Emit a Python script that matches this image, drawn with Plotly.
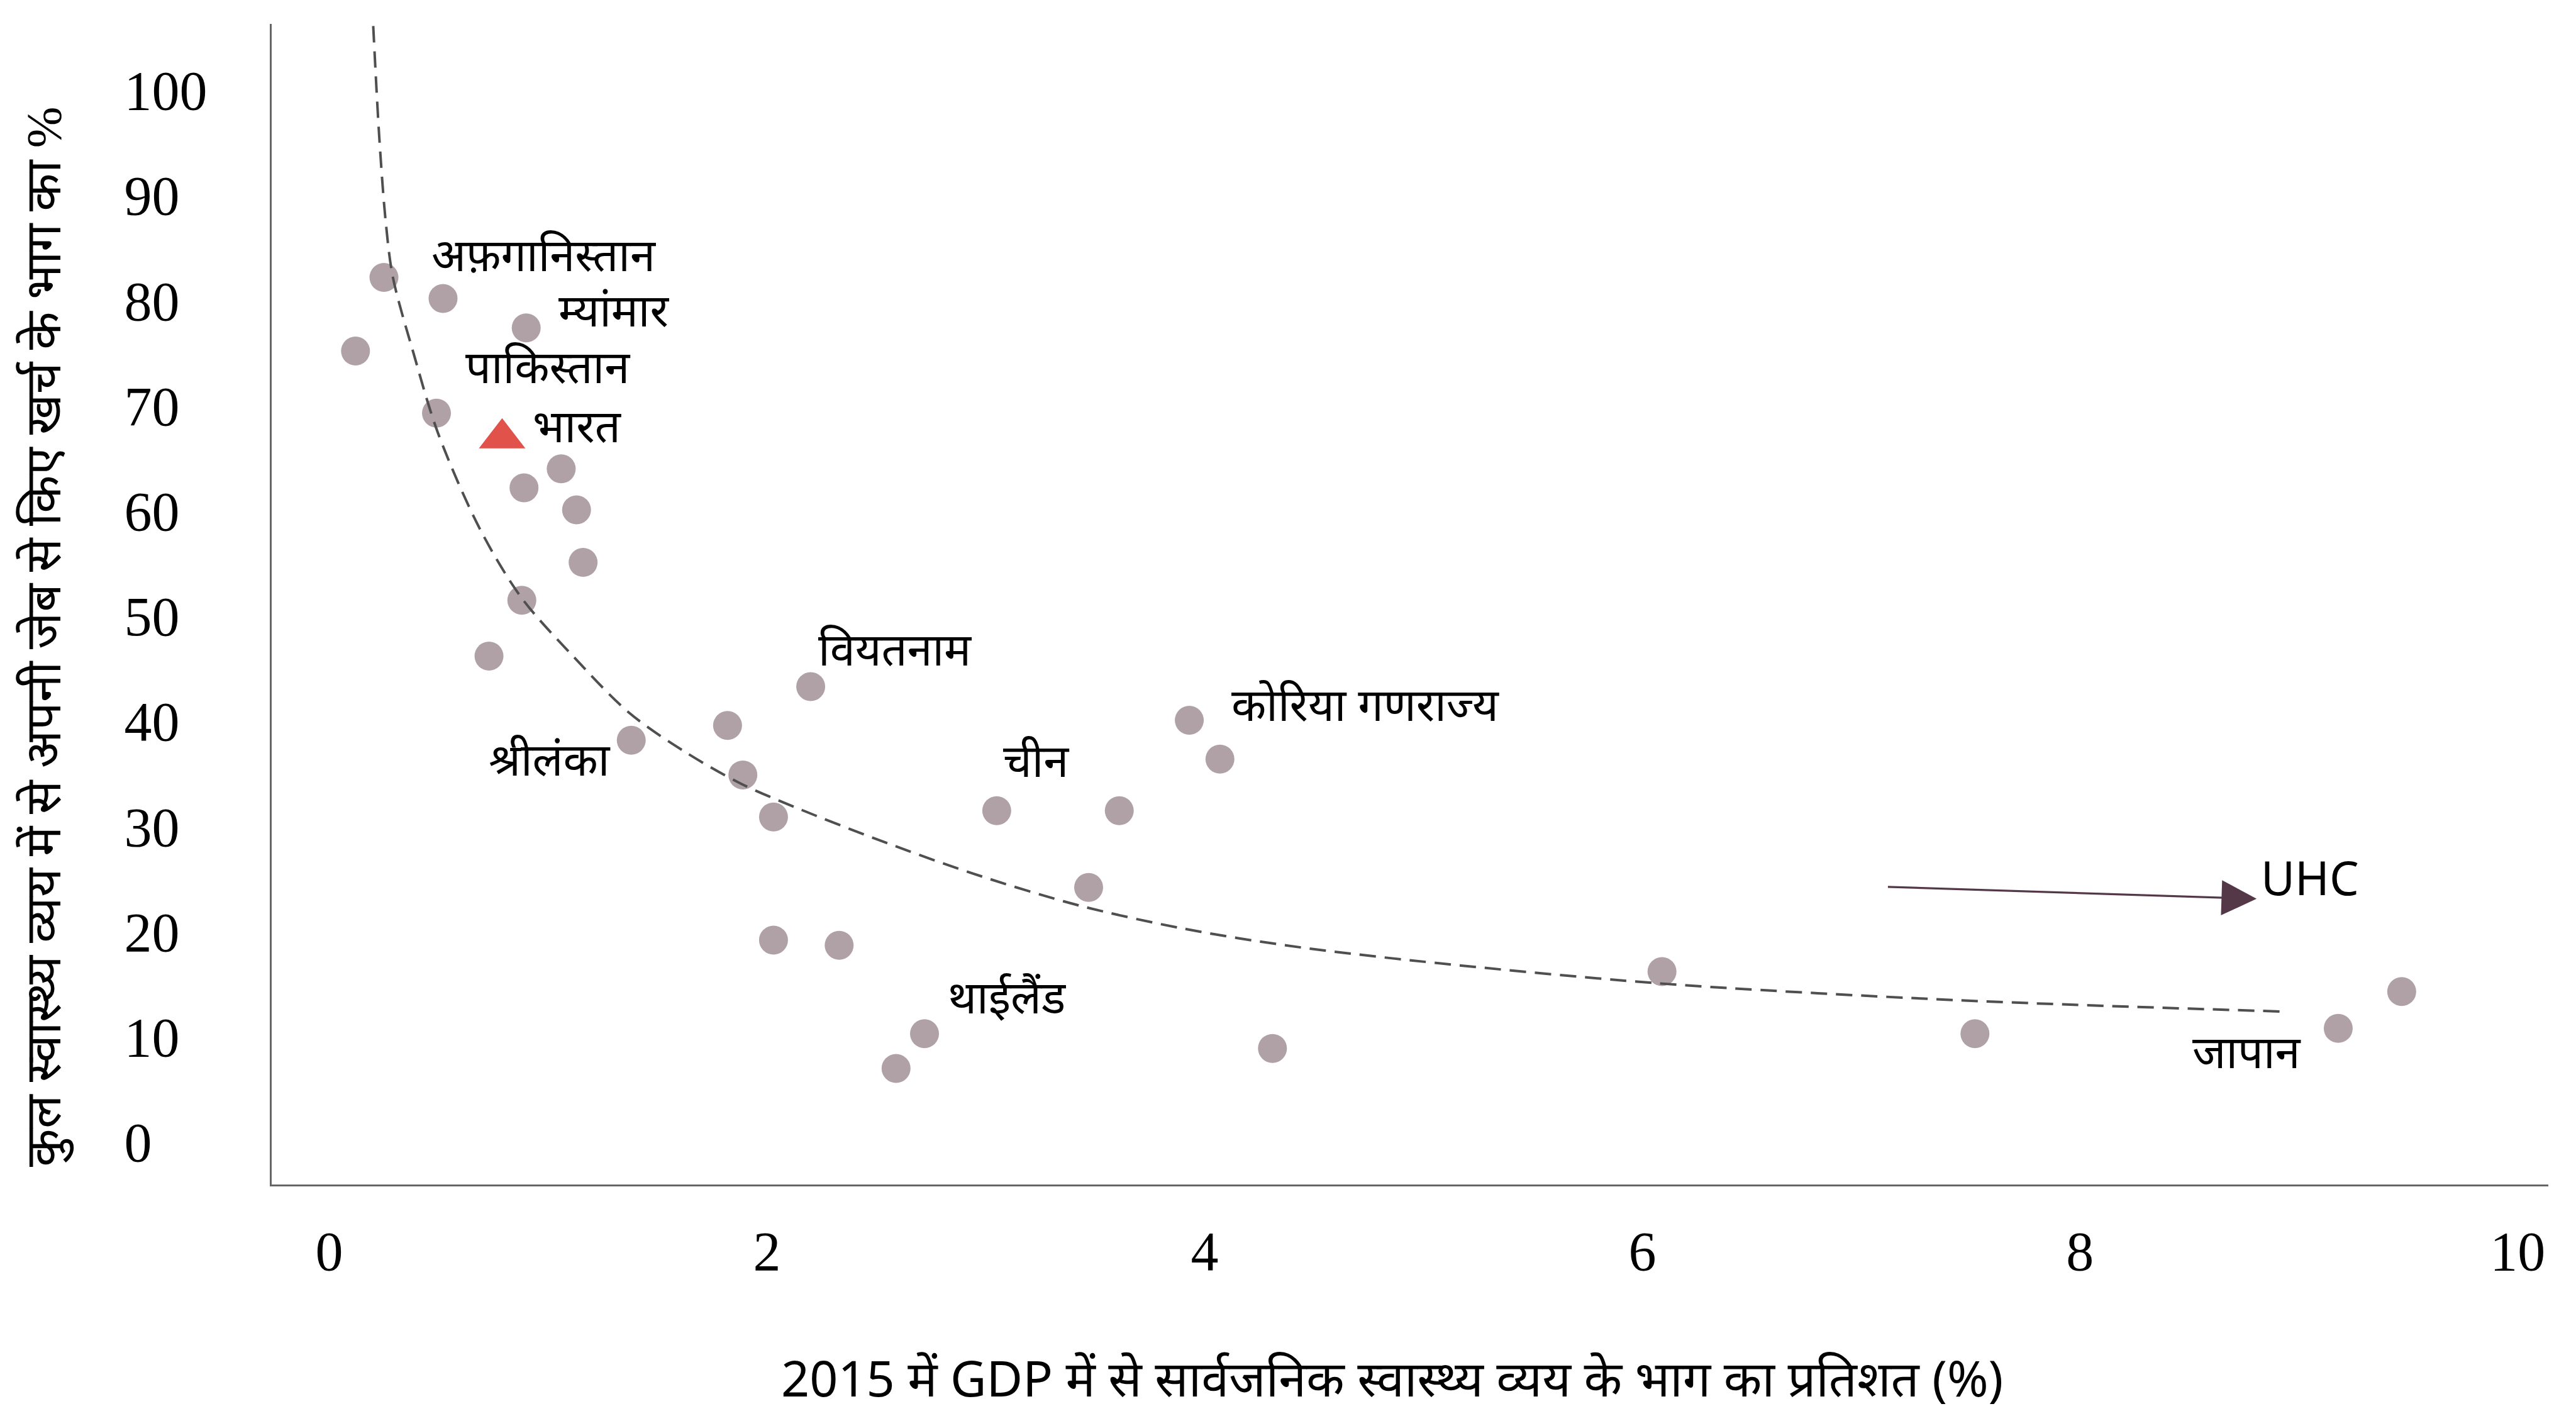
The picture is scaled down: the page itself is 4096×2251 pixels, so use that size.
import plotly.graph_objects as go

# ---- Data ----
# Public health expenditure (% of GDP, 2015) vs. out-of-pocket share of total health expenditure (%)
pub_health_gdp = [0.25, 0.12, 0.52, 0.90, 0.49, 1.06, 0.89, 1.13, 1.16, 0.88,
                  0.73, 1.38, 1.82, 1.89, 2.03, 2.20, 3.05, 3.61, 3.47, 3.93,
                  4.07, 2.03, 2.33, 2.72, 2.59, 4.31, 6.09, 7.52, 9.18, 9.47]
oop_share = [82.2, 75.2, 80.2, 77.4, 69.3, 64.0, 62.2, 60.1, 55.1, 51.5,
             46.2, 38.2, 39.6, 34.9, 30.9, 43.3, 31.5, 31.5, 24.2, 40.1,
             36.4, 19.2, 18.7, 10.3, 7.0, 8.9, 16.2, 10.3, 10.8, 14.3]

india_x = [0.79]
india_y = [66.9]

# Trend line
trend_x = [0.201, 0.229, 0.258, 0.291, 0.385, 0.497, 0.688, 0.880, 1.118,
           1.371, 1.625, 1.878, 2.132, 2.50, 2.93, 3.424, 3.90, 4.37, 4.93,
           6.065, 7.42, 8.93]
trend_y = [106.1, 95.4, 87.5, 82.2, 75.0, 67.4, 58.3, 51.7, 46.1,
           40.8, 37.1, 34.1, 31.8, 28.8, 25.6, 22.5, 20.3, 18.7, 17.3,
           15.1, 13.5, 12.4]

# Country labels
label_text = ["अफ़गानिस्तान", "म्यांमार", "पाकिस्तान", "भारत", "श्रीलंका",
              "वियतनाम", "चीन", "कोरिया गणराज्य", "थाईलैंड", "जापान"]
label_x = [0.462, 1.043, 0.616, 0.924, 0.723, 2.229, 3.073, 4.117, 2.820, 8.507]
label_y = [84.5, 79.2, 73.8, 68.2, 36.5, 47.0, 36.4, 41.7, 13.9, 8.7]

# UHC arrow (tail -> head) and label
uhc_tail = (7.118, 24.26)
uhc_head = (8.807, 23.12)
uhc_label = "UHC"
uhc_label_pos = (8.82, 25.2)

x_ticks = [0, 2, 4, 6, 8, 10]
y_ticks = [0, 10, 20, 30, 40, 50, 60, 70, 80, 90, 100]

x_title = "2015 में GDP में से सार्वजनिक स्वास्थ्य व्यय के भाग का प्रतिशत (%)"
y_title = "कुल स्वास्थ्य व्यय में से अपनी जेब से किए खर्च के भाग का %"

# ---- Styling ----
MARKER_COLOR = "#b0a1a6"
INDIA_COLOR = "#e0524a"
TREND_COLOR = "#4f4f4f"
AXIS_COLOR = "#666666"
ARROW_COLOR = "#543848"
SERIF = "Liberation Serif, Times New Roman, serif"
SANS = "Noto Sans, Open Sans, sans-serif"

# left-align y tick labels by padding with no-break spaces (digit = 2 spaces wide)
def pad(v):
    s = str(v)
    return s + "\u00a0" * (2 * (3 - len(s)))

fig = go.Figure()

fig.add_trace(go.Scatter(
    x=pub_health_gdp, y=oop_share, mode="markers",
    marker=dict(color=MARKER_COLOR, size=46, symbol="circle", line=dict(width=0)),
    hoverinfo="skip", showlegend=False))

fig.add_trace(go.Scatter(
    x=india_x, y=india_y, mode="markers",
    marker=dict(color=INDIA_COLOR, size=64, symbol="triangle-up", line=dict(width=0)),
    hoverinfo="skip", showlegend=False))

fig.add_trace(go.Scatter(
    x=trend_x, y=trend_y, mode="lines",
    line=dict(color=TREND_COLOR, width=4, dash="26px,14px", shape="spline", smoothing=0.9),
    hoverinfo="skip", showlegend=False))

annotations = []
for t, lx, ly in zip(label_text, label_x, label_y):
    annotations.append(dict(x=lx, y=ly, xref="x", yref="y", text=t, showarrow=False,
                            xanchor="left", yanchor="middle",
                            font=dict(family=SANS, size=72, color="#000000")))

annotations.append(dict(x=uhc_head[0], y=uhc_head[1], ax=uhc_tail[0], ay=uhc_tail[1],
                        xref="x", yref="y", axref="x", ayref="y", text="",
                        showarrow=True, arrowhead=2, arrowsize=3.6, arrowwidth=3.1,
                        arrowcolor=ARROW_COLOR, standoff=0, startstandoff=0))
annotations.append(dict(x=uhc_label_pos[0], y=uhc_label_pos[1], xref="x", yref="y",
                        text=uhc_label, showarrow=False, xanchor="left", yanchor="middle",
                        font=dict(family=SANS, size=74, color="#000000")))

# axis titles
annotations.append(dict(x=0.492, y=-0.166, xref="paper", yref="paper", text=x_title,
                        showarrow=False, xanchor="center", yanchor="middle",
                        font=dict(family=SANS, size=79, color="#000000")))
annotations.append(dict(x=-0.0998, y=0.472, xref="paper", yref="paper", text=y_title,
                        textangle=-90, showarrow=False, xanchor="center", yanchor="middle",
                        font=dict(family=SERIF, size=79, color="#000000")))

fig.update_layout(
    width=4096, height=2251,
    paper_bgcolor="white", plot_bgcolor="white",
    margin=dict(l=432, r=44, t=38, b=368, autoexpand=False),
    annotations=annotations,
    xaxis=dict(
        range=[-0.263, 10.14], tickvals=x_ticks, ticktext=[str(v) for v in x_ticks],
        showline=True, linecolor=AXIS_COLOR, linewidth=2.6, mirror=False,
        showgrid=False, zeroline=False, ticks="",
        tickfont=dict(family=SERIF, size=88, color="#000000"),
        ticklabelstandoff=28,
        automargin=False,
    ),
    yaxis=dict(
        range=[-4.04, 106.3], tickvals=y_ticks, ticktext=[pad(v) for v in y_ticks],
        showline=True, linecolor=AXIS_COLOR, linewidth=2.6, mirror=False,
        showgrid=False, zeroline=False, ticks="",
        tickfont=dict(family=SERIF, size=88, color="#000000"),
        ticklabelstandoff=82,
        automargin=False,
    ),
)

fig.write_html("out.html")
